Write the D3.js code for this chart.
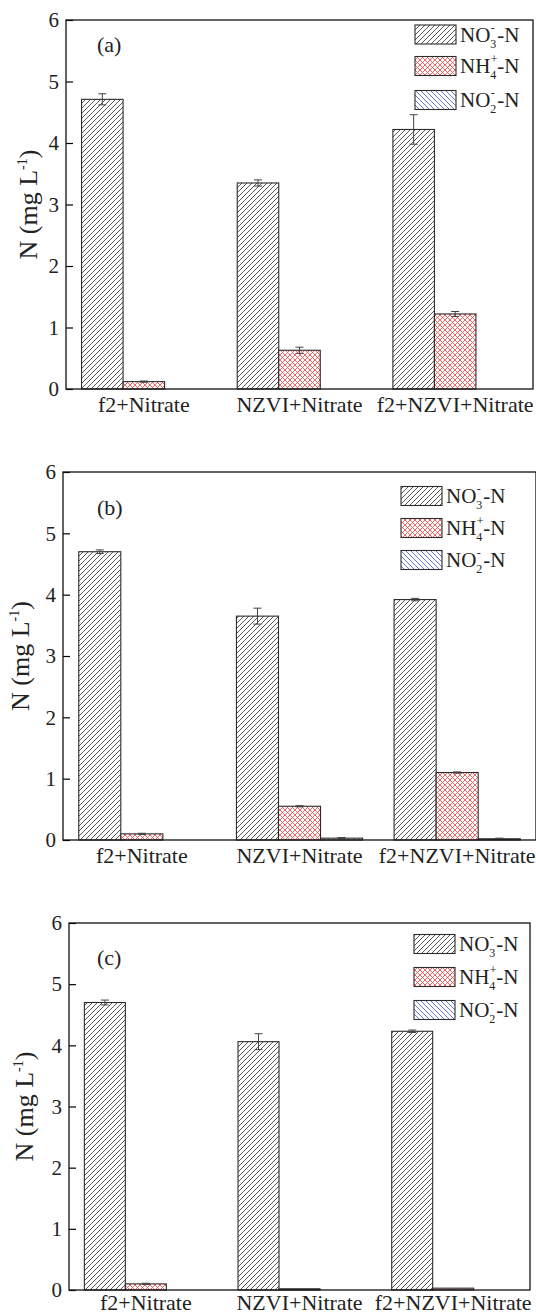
<!DOCTYPE html>
<html>
<head>
<meta charset="utf-8">
<script src="https://cdn.jsdelivr.net/npm/d3@7/dist/d3.min.js"></script>
<style>
  html, body { margin: 0; padding: 0; background: #fff; }
  svg { display: block; }
  svg text { font-family: "Liberation Serif", "Times New Roman", serif; }
</style>
</head>
<body>
<svg id="chart" width="536" height="1316"></svg>
<script>
// Treatments on the x axis
const categories = ["f2+Nitrate", "NZVI+Nitrate", "f2+NZVI+Nitrate"];
const seriesKeys = ["no3", "nh4", "no2"];
const yTicks = [0, 1, 2, 3, 4, 5, 6];
const panelTags = ["(a)", "(b)", "(c)"];

// Panel (a): nitrogen species (mg/L) and their standard deviations
const no3A = [4.71, 3.35, 4.22];
const no3ErrA = [0.09, 0.05, 0.24];
const nh4A = [0.12, 0.63, 1.22];
const nh4ErrA = [0.01, 0.05, 0.04];
const no2A = [0, 0, 0];
const no2ErrA = [0, 0, 0];

// Panel (b)
const no3B = [4.70, 3.65, 3.92];
const no3ErrB = [0.03, 0.13, 0.02];
const nh4B = [0.10, 0.55, 1.10];
const nh4ErrB = [0.01, 0.01, 0.01];
const no2B = [0, 0.03, 0.02];
const no2ErrB = [0, 0.01, 0.01];

// Panel (c)
const no3C = [4.70, 4.06, 4.23];
const no3ErrC = [0.04, 0.13, 0.02];
const nh4C = [0.10, 0.02, 0.03];
const nh4ErrC = [0.01, 0, 0];
const no2C = [0, 0, 0];
const no2ErrC = [0, 0, 0];

const panelData = [
  { no3: no3A, nh4: nh4A, no2: no2A, err: { no3: no3ErrA, nh4: nh4ErrA, no2: no2ErrA } },
  { no3: no3B, nh4: nh4B, no2: no2B, err: { no3: no3ErrB, nh4: nh4ErrB, no2: no2ErrB } },
  { no3: no3C, nh4: nh4C, no2: no2C, err: { no3: no3ErrC, nh4: nh4ErrC, no2: no2ErrC } }
];

// Frame, legend and title placement of each panel
const layouts = [
  { x0: 66, x1: 533, y0: 20,  y1: 389,  legX: 415, legY: [34.5, 66, 100], titleX: 37, tagY: 52,  catPad: 7 },
  { x0: 63, x1: 536, y0: 472, y1: 840,  legX: 401, legY: [496, 528, 560], titleX: 29, tagY: 515, catPad: 7 },
  { x0: 69, x1: 530, y0: 923, y1: 1290, legX: 414, legY: [944, 977, 1010], titleX: 33, tagY: 965, catPad: 4 }
];

const legendLabels = {
  no3: { base: "NO", sub: "3", sup: "-" },
  nh4: { base: "NH", sub: "4", sup: "+" },
  no2: { base: "NO", sub: "2", sup: "-" }
};

const serif = "'Liberation Serif', 'Times New Roman', serif";
const svg = d3.select("#chart").attr("font-family", serif);
const defs = svg.append("defs");

// Hatch fills
const pNO3 = defs.append("pattern").attr("id", "hatch-no3")
  .attr("patternUnits", "userSpaceOnUse").attr("width", 5).attr("height", 5);
pNO3.append("rect").attr("width", 5).attr("height", 5).attr("fill", "#fff");
pNO3.append("path").attr("d", "M0,5 L5,0 M-1,1 L1,-1 M4,6 L6,4")
  .attr("stroke", "#3a3a3a").attr("stroke-width", 0.85);

const pNH4 = defs.append("pattern").attr("id", "hatch-nh4")
  .attr("patternUnits", "userSpaceOnUse").attr("width", 5).attr("height", 5);
pNH4.append("rect").attr("width", 5).attr("height", 5).attr("fill", "#fff");
pNH4.append("path").attr("d", "M0,5 L5,0 M-1,1 L1,-1 M4,6 L6,4 M0,0 L5,5 M-1,4 L1,6 M4,-1 L6,1")
  .attr("stroke", "#f24a4a").attr("stroke-width", 0.85);

const pNO2 = defs.append("pattern").attr("id", "hatch-no2")
  .attr("patternUnits", "userSpaceOnUse").attr("width", 5).attr("height", 5);
pNO2.append("rect").attr("width", 5).attr("height", 5).attr("fill", "#fff");
pNO2.append("path").attr("d", "M0,0 L5,5 M-1,4 L1,6 M4,-1 L6,1")
  .attr("stroke", "#4c5fd6").attr("stroke-width", 0.85);

const fills = { no3: "url(#hatch-no3)", nh4: "url(#hatch-nh4)", no2: "url(#hatch-no2)" };
const ink = "#2b2b2b";
const textInk = "#222";

panelData.forEach((d, i) => {
  const L = layouts[i];
  const g = svg.append("g");

  const y = d3.scaleLinear().domain([0, 6]).range([L.y1, L.y0]);
  const x = d3.scaleBand().domain(categories).range([L.x0, L.x1])
    .paddingInner(0.2).paddingOuter(0.1);
  const xs = d3.scaleBand().domain(seriesKeys).range([0, x.bandwidth()]);

  // Bars and error bars
  categories.forEach((c, ci) => {
    seriesKeys.forEach(k => {
      const v = d[k][ci];
      const e = d.err[k][ci];
      const bx = x(c) + xs(k);
      const bw = xs.bandwidth();
      if (v > 0) {
        g.append("rect")
          .attr("x", bx).attr("y", y(v))
          .attr("width", bw).attr("height", y(0) - y(v))
          .attr("fill", fills[k]).attr("stroke", ink).attr("stroke-width", 1.1);
      }
      if (e > 0) {
        const cx = bx + bw / 2;
        const eg = g.append("g").attr("stroke", "#444").attr("stroke-width", 1);
        eg.append("line").attr("x1", cx).attr("x2", cx).attr("y1", y(v + e)).attr("y2", y(v - e));
        eg.append("line").attr("x1", cx - 4).attr("x2", cx + 4).attr("y1", y(v + e)).attr("y2", y(v + e));
        eg.append("line").attr("x1", cx - 4).attr("x2", cx + 4).attr("y1", y(v - e)).attr("y2", y(v - e));
      }
    });
  });

  // Left axis with inward ticks
  const yAxis = d3.axisLeft(y).tickValues(yTicks).tickFormat(d3.format("d"))
    .tickSizeInner(-7).tickSizeOuter(0).tickPadding(7);
  const ya = g.append("g").attr("transform", `translate(${L.x0},0)`).call(yAxis)
    .attr("font-family", serif);
  ya.select(".domain").remove();
  ya.selectAll("line").attr("stroke", "#000").attr("stroke-width", 1.2);
  ya.selectAll("text").attr("font-size", 21).attr("fill", textInk)
    .attr("font-family", serif);

  // Bottom axis: category names only
  const xAxis = d3.axisBottom(x).tickSize(0).tickPadding(L.catPad);
  const xa = g.append("g").attr("transform", `translate(0,${L.y1})`).call(xAxis)
    .attr("font-family", serif);
  xa.select(".domain").remove();
  xa.selectAll("text").attr("font-size", 22).attr("fill", textInk)
    .attr("font-family", serif);

  // Frame
  g.append("rect").attr("x", L.x0).attr("y", L.y0)
    .attr("width", L.x1 - L.x0).attr("height", L.y1 - L.y0)
    .attr("fill", "none").attr("stroke", "#111").attr("stroke-width", 1.3);

  // Panel tag
  g.append("text").attr("x", 97).attr("y", L.tagY)
    .attr("font-family", serif).attr("font-size", 22).attr("fill", textInk).text(panelTags[i]);

  // Y title
  const yt = g.append("text")
    .attr("transform", `translate(${L.titleX},${(L.y0 + L.y1) / 2}) rotate(-90)`)
    .attr("text-anchor", "middle").attr("font-family", serif)
    .attr("font-size", 26).attr("fill", textInk);
  yt.append("tspan").text("N (mg L");
  yt.append("tspan").attr("font-size", 14).attr("dy", -10).text("-1");
  yt.append("tspan").attr("dy", 10).text(")");

  // Legend
  seriesKeys.forEach((k, li) => {
    const cy = L.legY[li];
    g.append("rect").attr("x", L.legX).attr("y", cy - 9.5)
      .attr("width", 41).attr("height", 19)
      .attr("fill", fills[k]).attr("stroke", ink).attr("stroke-width", 1.1);
    const tx = L.legX + 45;
    const lab = legendLabels[k];
    const base = g.append("text").attr("x", tx).attr("y", cy + 7)
      .attr("font-family", serif).attr("font-size", 21).attr("fill", textInk).text(lab.base);
    const w = base.node().getComputedTextLength();
    g.append("text").attr("x", tx + w).attr("y", cy + 13)
      .attr("font-family", serif).attr("font-size", 12).attr("fill", textInk).text(lab.sub);
    g.append("text").attr("x", tx + w + 0.5).attr("y", cy - 3)
      .attr("font-family", serif).attr("font-size", 12).attr("fill", textInk).text(lab.sup);
    g.append("text").attr("x", tx + w + 7).attr("y", cy + 7)
      .attr("font-family", serif).attr("font-size", 21).attr("fill", textInk).text("-N");
  });
});
</script>
</body>
</html>
